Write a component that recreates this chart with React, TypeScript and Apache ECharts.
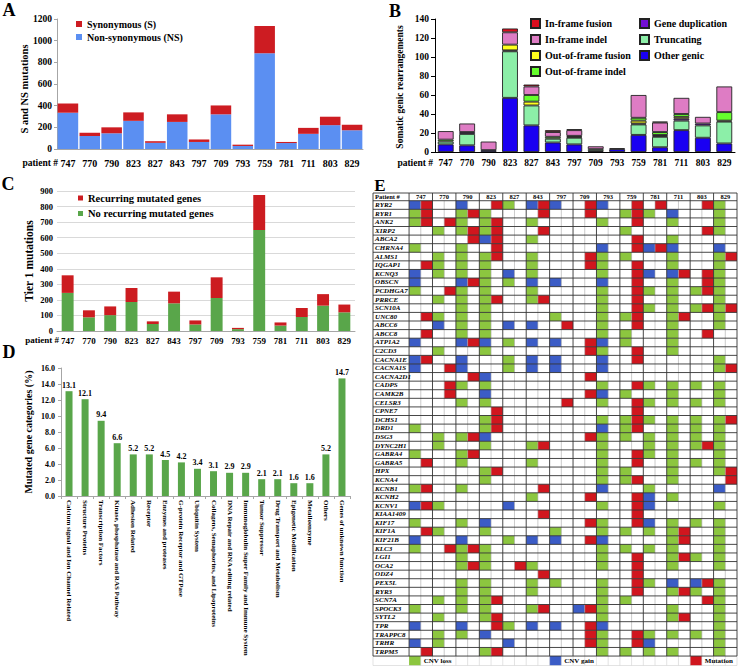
import React, { useEffect, useRef } from "react";
import * as echarts from "echarts";

const patients = ["747", "770", "790", "823", "827", "843", "797", "709", "793", "759", "781", "711", "803", "829"];

// Panel A
const nonSynonymous = [335, 120, 145, 260, 57, 250, 65, 320, 28, 885, 55, 140, 220, 172];
const synonymous = [85, 30, 55, 78, 15, 70, 23, 82, 12, 250, 10, 55, 78, 53];

// Panel B
const otherGenic = [8, 7, 2, 57, 28, 10, 8, 1, 3, 18, 5, 23, 15, 9];
const truncating = [3, 12, 0, 49, 21, 4, 7, 2, 0, 11, 11, 10, 13, 23];
const geneDuplication = [0, 2, 0, 1, 0, 0, 0, 0, 0, 1, 1, 2, 2, 0];
const outOfFrameFusion = [0, 0, 0, 6, 4, 0, 1, 0, 0, 3, 1, 2, 0, 1];
const outOfFrameIndel = [2, 0, 0, 0, 7, 2, 1, 0, 0, 3, 3, 3, 0, 9];
const inFrameIndel = [9, 9, 9, 13, 9, 5, 6, 3, 1, 24, 10, 17, 7, 27];
const inFrameFusion = [0, 0, 0, 4, 2, 2, 1, 0, 0, 0, 1, 0, 0, 0];

// Panel C
const noRecurringGenes = [245, 88, 102, 187, 45, 178, 42, 212, 12, 650, 35, 90, 163, 120];
const recurringGenes = [113, 45, 56, 90, 17, 75, 26, 133, 8, 225, 20, 58, 74, 50];

// Panel D
const geneCategories = [
  "Calcium signal and Ion Channel Related",
  "Structure Proteins",
  "Transcription Factors",
  "Kinase, phosphatase and RAS Pathway",
  "Adhesion Related",
  "Receptor",
  "Enzymes and proteases",
  "G-protein Receptor and GTPase",
  "Ubiquitin System",
  "Collagens, Semaphorins, and Lipoproteins",
  "DNA Repair and RNA editing related",
  "Immunoglobulin Super Family and Immune System",
  "Tumor Suppressor",
  "Drug Transport and Metabolism",
  "Epigenetic Modification",
  "Metalloenzyme",
  "Others",
  "Genes of unknown function",
];
const categoryPercent = [13.1, 12.1, 9.4, 6.6, 5.2, 5.2, 4.5, 4.2, 3.4, 3.1, 2.9, 2.9, 2.1, 2.1, 1.6, 1.6, 5.2, 14.7];

// Panel E: sub-column (1..28, two per patient) + event code (G = CNV loss, B = CNV gain, R = mutation)
const genes = [
  "RYR2", "RYR1", "ANK2", "XIRP2", "ABCA2", "CHRNA4", "ALMS1", "IQGAP1", "KCNQ3", "OBSCN",
  "PCDHGA7", "PRRCE", "SCN10A", "UNC80", "ABCC6", "ABCC8", "ATP1A2", "C2CD3", "CACNA1E", "CACNA1S",
  "CACNA2D1", "CADPS", "CAMK2B", "CELSR3", "CPNE7", "DCHS1", "DRD1", "DSG3", "DYNC2H1", "GABRA4",
  "GABRA5", "HPX", "KCNA4", "KCNB1", "KCNH2", "KCNV1", "KIAA1409", "KIF17", "KIF1A", "KIF21B",
  "KLC3", "LGI1", "OCA2", "ODZ4", "PEX5L", "RYR3", "SCN7A", "SPOCK3", "SYTL2", "TPR",
  "TRAPPC8", "TRHR", "TRPM5",
];
const geneEvents = [
  "1B 2R 5B 8R 9G 11B 12R 13B 16R 17B 20R 22R 26R 27G",
  "1G 2R 5G 6R 7G 12R 16R 19G 20R 21G 23B 27G",
  "1G 2R 4R 5G 7G 8R 11G 17G 20R 23G 27G",
  "3G 5G 6R 7G 8R 12R 19G 26R 27G",
  "6R 7B 8R 11G 20R 23G",
  "1G 5G 8R 17B 20R 21B 22R 23B 27B",
  "3G 5G 7G 8R 11G 16R 17G 19G 23G 27G 28R",
  "2R 3G 5G 7G 11G 16R 17G 20R 23G 27G",
  "1B 3G 5G 7G 9B 11G 17G 20R 21B 23B 24R 26R 27G",
  "1B 5B 6R 7G 9G 11B 13B 17B 20R 23G 26R 27G",
  "1G 4R 5G 7G 11G 17G 20R 21G 23G 25G 26R 27G",
  "3G 5G 7G 8R 11G 12R 17G 20R 23G 27G",
  "5G 7G 17G 20R 21G 23G 25G 26R 27G 28R",
  "2R 3G 5G 7G 13G 17G 19G 20R 23G 24R 27G",
  "3B 5G 7G 9B 11B 14R 17G 20R 23G 27G",
  "2R 5G 7G 17G 19G 23G 26R",
  "1B 5B 6R 7B 9G 11B 13B 16R 17B 19G 23G",
  "3G 7G 16R 17G 20R 23G",
  "1B 2R 5B 9G 11B 13B 17B 20R 27G",
  "1B 4R 5B 9G 11B 13B 17B 27G 28R",
  "6R 7B 16R",
  "4R 5G 7G 17G 20R 21G 23G 25G 27G",
  "4R 7B 16R 17B 19G 23G 27G",
  "5G 7G 14R 17G 20R 21G 23G 25G 27G",
  "8R 20R",
  "7G 8R 17G 19G 20R 21G 23G 25G 27G 28R",
  "1G 7G 8R 17B 19G 20R 23G 25G 27G",
  "3G 5G 6R 7B 16R 17G 19G 21G 23G 25G 27G",
  "3G 7G 11G 12R 17G 21G 23G 25G 26R 27G",
  "1G 5G 6R 17G 20R 21G 23G 27G",
  "2R 5G 11G 17G 20R 23G 25G 27G",
  "7G 8R 17G 19G 23G 27G 28R",
  "7G 17G 19G 20R 23G 28R",
  "1G 2R 5G 12R 17B 21G 27B",
  "11G 16R 20R 21B 23G",
  "1B 2R 3G 9B 17G 20R 21B 27G",
  "12R 20R",
  "1G 5G 7B 16R 17G 20R 21B 23G 25G 27G",
  "2R 3G 7G 13G 17G 19G 21G 23G 24R 27G",
  "1B 5B 9G 11B 13B 16R 17B 23G 24R 27G",
  "1G 4R 5G 6R 7G 17G 19G 21G 23G 27G",
  "5G 7G 17G 20R 23G 24R 25G 27G",
  "5G 6R 7G 10R 11G 17G 20R 23G 27G",
  "12R 20R",
  "5G 7G 11G 13G 17G 20R 21G 23B 25B 26R 27G",
  "5G 7G 11G 17G 20R 23G 24R 25G 27G",
  "3G 5G 7G 8R 17G 19G 26R 27G",
  "1G 5G 7G 11G 12R 15B 16R 17G 23G 27G",
  "3G 7G 8R 17G 23G 24R 27G",
  "1B 5B 8R 9G 11B 13B 16R 17B 27G",
  "3G 5G 7B 16R 17G 20R 21G 23G 25G 27G",
  "1B 3G 9B 16R 17G 20R 21B 27G",
  "2R 7G 8R 17G 19G 21G 23G 27G",
];
const eventCodes = ["G", "B", "R"];
const eventLabels = ["CNV loss", "CNV gain", "Mutation"];

const SERIF = '"Liberation Serif", "Times New Roman", serif';
const EVENT_COLORS = ["#8cc63f", "#3b5cc6", "#d0161e"];

function boldText(size: number) {
  return { fontFamily: SERIF, fontWeight: "bold" as const, fontSize: size, color: "#000" };
}

function buildOption() {
  const nSub = patients.length * 2;
  const nRows = genes.length;
  const labelColStart = -3.08;
  const headerTop = -0.9;
  const legendBottom = nRows + 1.1;

  const cellData: number[][] = [];
  geneEvents.forEach((row, r) => {
    row.split(" ").forEach((tok) => {
      const col = parseInt(tok, 10);
      const code = eventCodes.indexOf(tok.slice(-1));
      cellData.push([col - 1, r, code]);
    });
  });
  const legendSlots = [0, 12, 24];
  const legendCellData = eventLabels.map((_, i) => [legendSlots[i], nRows, i]);

  const lineData: number[][] = [];
  for (let c = 1; c < nSub; c += 2) lineData.push([c, 0, c, nRows, 1]);
  for (let c = 1; c < nSub; c++) lineData.push([c, nRows, c, legendBottom, 2]);
  lineData.push([labelColStart, nRows, labelColStart, legendBottom, 2]);
  lineData.push([nSub, nRows, nSub, legendBottom, 2]);
  lineData.push([labelColStart, legendBottom, nSub, legendBottom, 2]);
  lineData.push([labelColStart, headerTop, nSub, headerTop, 0]);
  for (let r = 0; r <= nRows; r++) lineData.push([labelColStart, r, nSub, r, 0]);
  lineData.push([labelColStart, headerTop, labelColStart, nRows, 0]);
  for (let c = 0; c <= nSub; c += 2) lineData.push([c, headerTop, c, nRows, 0]);

  const geneLabelData = genes.map((_, r) => [labelColStart + 0.18, r + 0.5]);
  const headerData = [[labelColStart + 0.18, headerTop / 2]].concat(
    patients.map((_, i) => [2 * i + 1, headerTop / 2])
  );
  const headerTexts = ["Patient #"].concat(patients);
  const legendTextData = eventLabels.map((_, i) => [legendSlots[i] + 1.25, nRows + 0.55]);

  const bSeriesDefs: [string, number[], string][] = [
    ["Other genic", otherGenic, "#1a00f2"],
    ["Truncating", truncating, "#8cefa8"],
    ["Gene duplication", geneDuplication, "#7410d4"],
    ["Out-of-frame fusion", outOfFrameFusion, "#ffff1e"],
    ["Out-of-frame indel", outOfFrameIndel, "#66ff2e"],
    ["In-frame indel", inFrameIndel, "#de7cc4"],
    ["In-frame fusion", inFrameFusion, "#dc0c1e"],
  ];

  const catAxisCommon = (gridIndex: number, lineColor: string, size: number, margin: number) => ({
    gridIndex,
    type: "category" as const,
    data: patients,
    axisLine: { show: true, lineStyle: { color: lineColor, width: 1 } },
    axisTick: { show: false },
    axisLabel: { ...boldText(size), margin, interval: 0 },
  });

  const plain = (v: number) => String(v);

  const pText = (text: string, x: number, y: number, size: number, align = "center", rotation = 0) => ({
    type: "text",
    x,
    y,
    rotation,
    style: {
      text,
      font: `bold ${size}px ${SERIF}`,
      fill: "#000",
      align,
      verticalAlign: "middle",
    },
  });

  return {
    animation: false,
    backgroundColor: "#ffffff",
    grid: [
      { left: 57, top: 19, width: 306, height: 130, outerBoundsMode: "none" },
      { left: 435, top: 19, width: 300, height: 133, outerBoundsMode: "none" },
      { left: 57, top: 191, width: 298, height: 140, outerBoundsMode: "none" },
      { left: 61, top: 368, width: 289, height: 128, outerBoundsMode: "none" },
      { left: 373, top: 193, width: 364, height: 472.5, outerBoundsMode: "none" },
    ],
    xAxis: [
      catAxisCommon(0, "#a6a6a6", 10, 9),
      catAxisCommon(1, "#000000", 9.5, 6),
      catAxisCommon(2, "#a6a6a6", 9, 5),
      {
        gridIndex: 3,
        type: "category",
        data: geneCategories,
        axisLine: { show: true, lineStyle: { color: "#a6a6a6" } },
        axisTick: { show: true, length: 3, lineStyle: { color: "#a6a6a6" } },
        axisLabel: { ...boldText(7), rotate: -90, interval: 0, margin: 4 },
      },
      { gridIndex: 4, type: "value", min: labelColStart, max: nSub, show: false },
    ],
    yAxis: [
      {
        gridIndex: 0,
        type: "value",
        min: 0,
        max: 1200,
        interval: 200,
        axisLine: { show: true, lineStyle: { color: "#a6a6a6" } },
        axisTick: { show: true, length: 3, lineStyle: { color: "#a6a6a6" } },
        splitLine: { show: false },
        axisLabel: { ...boldText(9.5), margin: 5, formatter: plain },
      },
      {
        gridIndex: 1,
        type: "value",
        min: 0,
        max: 140,
        interval: 20,
        axisLine: { show: true, lineStyle: { color: "#000" } },
        axisTick: { show: true, length: 4, lineStyle: { color: "#000" } },
        splitLine: { show: false },
        axisLabel: { ...boldText(9.5), margin: 6, formatter: plain },
      },
      {
        gridIndex: 2,
        type: "value",
        min: 0,
        max: 900,
        interval: 100,
        axisLine: { show: false },
        axisTick: { show: false },
        splitLine: { show: true, lineStyle: { color: "#d9d9d9", width: 1 } },
        axisLabel: { ...boldText(8.5), margin: 4, formatter: plain },
      },
      {
        gridIndex: 3,
        type: "value",
        min: 0,
        max: 16,
        interval: 2,
        axisLine: { show: true, lineStyle: { color: "#a6a6a6" } },
        axisTick: { show: true, length: 3, lineStyle: { color: "#a6a6a6" } },
        splitLine: { show: false },
        axisLabel: { ...boldText(8), margin: 6, formatter: (v: number) => v.toFixed(1) },
      },
      { gridIndex: 4, type: "value", min: headerTop, max: legendBottom, inverse: true, show: false },
    ],
    legend: [
      {
        left: 76,
        top: 19,
        padding: 0,
        orient: "vertical",
        data: ["Synonymous (S)", "Non-synonymous (NS)"],
        icon: "rect",
        itemWidth: 6,
        itemHeight: 6,
        itemGap: 3,
        selectedMode: false,
        textStyle: boldText(10),
      },
      {
        left: 530,
        top: 18,
        padding: 0,
        orient: "vertical",
        data: ["In-frame fusion", "In-frame indel", "Out-of-frame fusion", "Out-of-frame indel"],
        icon: "rect",
        itemWidth: 9,
        itemHeight: 9,
        itemGap: 5,
        selectedMode: false,
        textStyle: boldText(10),
      },
      {
        left: 639,
        top: 18,
        padding: 0,
        orient: "vertical",
        data: ["Gene duplication", "Truncating", "Other genic"],
        icon: "rect",
        itemWidth: 9,
        itemHeight: 9,
        itemGap: 5,
        selectedMode: false,
        textStyle: boldText(10),
      },
      {
        left: 78,
        top: 192.5,
        padding: 0,
        orient: "vertical",
        data: ["Recurring mutated genes", "No recurring mutated genes"],
        icon: "rect",
        itemWidth: 5,
        itemHeight: 5,
        itemGap: 4.5,
        selectedMode: false,
        textStyle: boldText(10.5),
      },
    ],
    series: [
      {
        name: "Non-synonymous (NS)",
        type: "bar",
        xAxisIndex: 0,
        yAxisIndex: 0,
        stack: "A",
        data: nonSynonymous,
        barCategoryGap: "6%",
        itemStyle: { color: "#5b8ff2" },
      },
      {
        name: "Synonymous (S)",
        type: "bar",
        xAxisIndex: 0,
        yAxisIndex: 0,
        stack: "A",
        data: synonymous,
        barCategoryGap: "6%",
        itemStyle: { color: "#cd1c22" },
      },
      ...bSeriesDefs.map(([name, values, color]) => ({
        name,
        type: "bar",
        xAxisIndex: 1,
        yAxisIndex: 1,
        stack: "B",
        data: values.map((v) => (v === 0 ? "-" : v)),
        barCategoryGap: "26%",
        itemStyle: { color, borderColor: "#222", borderWidth: 0.9 },
      })),
      {
        name: "No recurring mutated genes",
        type: "bar",
        xAxisIndex: 2,
        yAxisIndex: 2,
        stack: "C",
        data: noRecurringGenes,
        barCategoryGap: "44%",
        itemStyle: { color: "#59a64a" },
      },
      {
        name: "Recurring mutated genes",
        type: "bar",
        xAxisIndex: 2,
        yAxisIndex: 2,
        stack: "C",
        data: recurringGenes,
        barCategoryGap: "44%",
        itemStyle: { color: "#cc1c20" },
      },
      {
        name: "Mutated gene categories",
        type: "bar",
        xAxisIndex: 3,
        yAxisIndex: 3,
        data: categoryPercent,
        barWidth: 7,
        itemStyle: { color: "#59a64a" },
        label: {
          show: true,
          position: "top",
          distance: 2,
          ...boldText(8),
          formatter: (p: any) => Number(p.value).toFixed(1),
        },
      },
      {
        type: "custom",
        name: "cells",
        xAxisIndex: 4,
        yAxisIndex: 4,
        z: 2,
        data: cellData.concat(legendCellData),
        encode: { x: 0, y: 1 },
        renderItem: (params: any, api: any) => {
          const x0 = api.value(0);
          const y0 = api.value(1);
          const h = y0 >= nRows ? legendBottom - nRows : 1;
          const p0 = api.coord([x0, y0]);
          const p1 = api.coord([x0 + 1, y0 + h]);
          return {
            type: "rect",
            shape: { x: p0[0], y: p0[1], width: p1[0] - p0[0], height: p1[1] - p0[1] },
            style: { fill: EVENT_COLORS[api.value(2)] },
          };
        },
      },
      {
        type: "custom",
        name: "gridlines",
        xAxisIndex: 4,
        yAxisIndex: 4,
        z: 3,
        data: lineData,
        encode: { x: [0, 2], y: [1, 3] },
        renderItem: (params: any, api: any) => {
          const p0 = api.coord([api.value(0), api.value(1)]);
          const p1 = api.coord([api.value(2), api.value(3)]);
          const kind = api.value(4);
          const stroke = kind === 0 ? "#333333" : kind === 1 ? "#a8a8a8" : "#d0d0d0";
          return {
            type: "line",
            shape: { x1: p0[0], y1: p0[1], x2: p1[0], y2: p1[1] },
            style: { stroke, lineWidth: kind === 0 ? 0.9 : 0.6 },
          };
        },
      },
      {
        type: "custom",
        name: "geneLabels",
        xAxisIndex: 4,
        yAxisIndex: 4,
        z: 4,
        data: geneLabelData,
        encode: { x: 0, y: 1 },
        renderItem: (params: any, api: any) => {
          const p = api.coord([api.value(0), api.value(1)]);
          return {
            type: "text",
            x: p[0],
            y: p[1],
            style: {
              text: genes[params.dataIndex],
              font: `italic bold 7px ${SERIF}`,
              fill: "#000",
              align: "left",
              verticalAlign: "middle",
            },
          };
        },
      },
      {
        type: "custom",
        name: "headerLabels",
        xAxisIndex: 4,
        yAxisIndex: 4,
        z: 4,
        data: headerData,
        encode: { x: 0, y: 1 },
        renderItem: (params: any, api: any) => {
          const p = api.coord([api.value(0), api.value(1)]);
          return {
            type: "text",
            x: p[0],
            y: p[1],
            style: {
              text: headerTexts[params.dataIndex],
              font: `bold 6.5px ${SERIF}`,
              fill: "#000",
              align: params.dataIndex === 0 ? "left" : "center",
              verticalAlign: "middle",
            },
          };
        },
      },
      {
        type: "custom",
        name: "eventLegend",
        xAxisIndex: 4,
        yAxisIndex: 4,
        z: 4,
        data: legendTextData,
        encode: { x: 0, y: 1 },
        renderItem: (params: any, api: any) => {
          const p = api.coord([api.value(0), api.value(1)]);
          return {
            type: "text",
            x: p[0],
            y: p[1],
            style: {
              text: eventLabels[params.dataIndex],
              font: `bold 7px ${SERIF}`,
              fill: "#000",
              align: "left",
              verticalAlign: "middle",
            },
          };
        },
      },
    ],
    graphic: [
      pText("A", 9, 10, 18),
      pText("B", 395, 11, 18),
      pText("C", 8, 184, 18),
      pText("D", 9, 352, 18),
      pText("E", 380, 185, 17),
      pText("patient #", 58, 163, 9.5, "right"),
      pText("patient #", 433, 163, 9.5, "right"),
      pText("patient #", 59, 340, 9, "right"),
      pText("S and NS mutations", 24, 89, 10.5, "center", Math.PI / 2),
      pText("Somatic genic rearrangements", 400, 87, 9.5, "center", Math.PI / 2),
      pText("Tier 1 mutations", 29, 261, 11.5, "center", Math.PI / 2),
      pText("Mutated gene categories (%)", 28, 432, 10, "center", Math.PI / 2),
    ],
  };
}

export default function App() {
  const ref = useRef<HTMLDivElement | null>(null);
  useEffect(() => {
    if (!ref.current) return;
    const chart = echarts.init(ref.current, null, { renderer: "svg" });
    chart.setOption(buildOption() as any);
    return () => chart.dispose();
  }, []);
  return (
    <div
      ref={ref}
      style={{ position: "fixed", left: 0, top: 0, width: 743, height: 668, background: "#fff" }}
    />
  );
}
